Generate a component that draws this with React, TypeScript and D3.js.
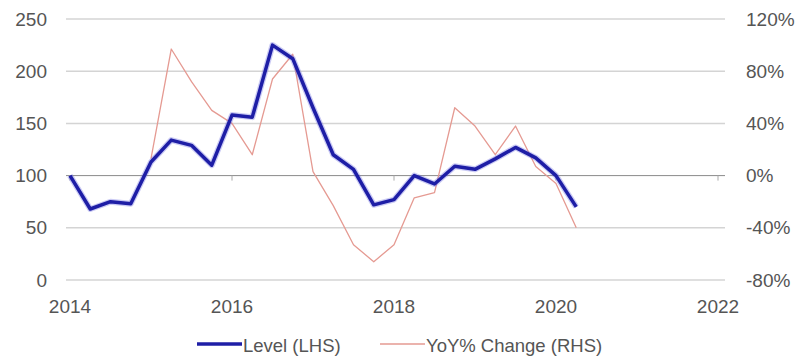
import React from "react";
import * as d3 from "d3";

const levelDates = [
  2014.0, 2014.25, 2014.5, 2014.75, 2015.0, 2015.25, 2015.5, 2015.75,
  2016.0, 2016.25, 2016.5, 2016.75, 2017.0, 2017.25, 2017.5, 2017.75,
  2018.0, 2018.25, 2018.5, 2018.75, 2019.0, 2019.25, 2019.5, 2019.75,
  2020.0, 2020.25,
];
const levelValues = [
  100, 68, 75, 73, 113, 134, 129, 110,
  158, 156, 225, 212, 165, 120, 106, 72,
  77, 100, 92, 109, 106, 116, 127, 117,
  100, 70,
];
const yoyDates = levelDates.slice(4);
const yoyValues = [
  13, 97, 72, 50, 40, 16, 74, 93, 3, -23, -53, -66,
  -53, -17, -13, 52, 38, 16, 38, 7, -6, -40,
];
const xTicks = [2014, 2016, 2018, 2020, 2022];
const leftTicks = [0, 50, 100, 150, 200, 250];
const rightTicks = [-80, -40, 0, 40, 80, 120];
const legendLabels = ["Level (LHS)", "YoY% Change (RHS)"];

export default function App() {
  const x = d3.scaleLinear().domain([2014, 2022]).range([70, 718]);
  const yL = d3.scaleLinear().domain([0, 250]).range([280, 19]);
  const yR = d3.scaleLinear().domain([-80, 120]).range([280, 19]);
  const font = "'Liberation Sans', Arial, sans-serif";
  const textColor = "#555";

  const levelLine = d3
    .line<number>()
    .x((_, i) => x(levelDates[i]))
    .y((d) => yL(d));
  const yoyLine = d3
    .line<number>()
    .x((_, i) => x(yoyDates[i]))
    .y((d) => yR(d));

  return (
    <svg
      width={800}
      height={357}
      style={{ position: "absolute", left: 0, top: 0, background: "#fff" }}
    >
      {leftTicks.map((t) => (
        <line
          key={"g" + t}
          x1={66}
          x2={725}
          y1={yL(t)}
          y2={yL(t)}
          stroke={t === 100 ? "#8a8a8a" : "#d4d4d4"}
          strokeWidth={t === 100 ? 1 : 1.5}
        />
      ))}
      {xTicks.map((t) => (
        <line
          key={"xt" + t}
          x1={x(t)}
          x2={x(t)}
          y1={yL(100)}
          y2={yL(100) + 5}
          stroke="#aaa"
          strokeWidth={1}
        />
      ))}
      {leftTicks.map((t) => (
        <text
          key={"l" + t}
          x={47}
          y={yL(t)}
          textAnchor="end"
          dominantBaseline="central"
          fontFamily={font}
          fontSize={19}
          fill={textColor}
        >
          {t}
        </text>
      ))}
      {rightTicks.map((t) => (
        <text
          key={"r" + t}
          x={746}
          y={yR(t)}
          textAnchor="start"
          dominantBaseline="central"
          fontFamily={font}
          fontSize={19}
          fill={textColor}
        >
          {t + "%"}
        </text>
      ))}
      {xTicks.map((t) => (
        <text
          key={"x" + t}
          x={x(t)}
          y={306}
          textAnchor="middle"
          dominantBaseline="central"
          fontFamily={font}
          fontSize={19}
          fill={textColor}
        >
          {t}
        </text>
      ))}
      <path
        d={yoyLine(yoyValues) || ""}
        fill="none"
        stroke="#e59a92"
        strokeWidth={1.3}
        strokeLinejoin="round"
      />
      <path
        d={levelLine(levelValues) || ""}
        fill="none"
        stroke="#6a6ae0"
        strokeOpacity={0.35}
        strokeWidth={6}
        strokeLinejoin="round"
      />
      <path
        d={levelLine(levelValues) || ""}
        fill="none"
        stroke="#1e1ea6"
        strokeWidth={3.5}
        strokeLinejoin="round"
      />
      <line x1={197} x2={242} y1={344} y2={344} stroke="#1e1ea6" strokeWidth={3.5} />
      <text
        x={243}
        y={345}
        dominantBaseline="central"
        fontFamily={font}
        fontSize={18.5}
        fill={textColor}
      >
        {legendLabels[0]}
      </text>
      <line x1={380} x2={425} y1={344} y2={344} stroke="#e59a92" strokeWidth={1.3} />
      <text
        x={426}
        y={345}
        dominantBaseline="central"
        fontFamily={font}
        fontSize={18.5}
        fill={textColor}
      >
        {legendLabels[1]}
      </text>
    </svg>
  );
}
